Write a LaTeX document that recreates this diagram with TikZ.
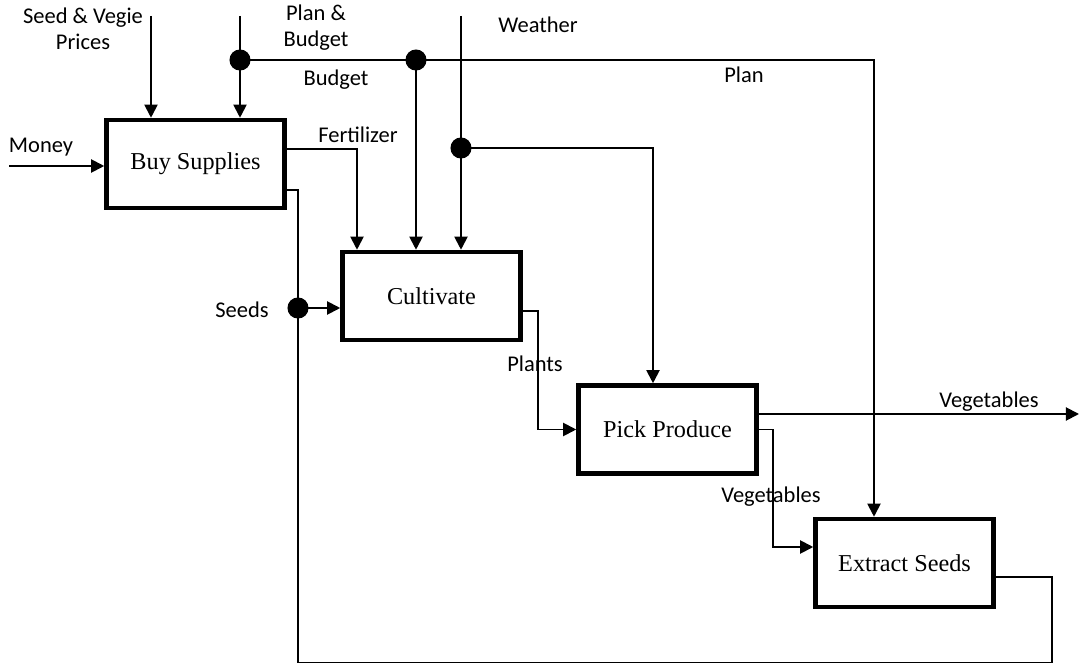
\documentclass[tikz,border=0pt]{standalone}
\usepackage{fontspec}
\setmainfont{Liberation Serif}
\newfontfamily\lblfont{Carlito}
\usetikzlibrary{arrows.meta, calc}

\begin{document}
\begin{tikzpicture}[x=0.02cm, y=-0.02cm,
        process/.style={rectangle, draw, line width=2.6pt, minimum width=3.56cm, minimum height=1.76cm, font=\fontsize{13.8}{16}\selectfont},
        flow/.style={line width=1.1pt},
        arr/.style={flow, -{Triangle[length=7.5pt, width=7.5pt]}},
        lbl/.style={font=\lblfont\fontsize{12.8}{14.8}\selectfont, inner sep=1pt, align=center},
        junction/.style={circle, fill, inner sep=0pt, minimum size=12pt}
    ]
        \useasboundingbox (0,0) rectangle (1079,665);

        % activities
        \node[process] (buy) at (195.5,164) {Buy Supplies};
        \node[process] (cult) at (431.5,296) {Cultivate};
        \node[process] (pick) at (667.5,429.5) {Pick Produce};
        \node[process] (extract) at (904.5,563) {Extract Seeds};

        % branch points
        \node[junction] (j1) at (240,60) {};
        \node[junction] (j2) at (416,60) {};
        \node[junction] (j3) at (461,148) {};
        \node[junction] (j4) at (298,308) {};

        \coordinate (moneyin) at (9,166);
        \coordinate (pricesin) at (151,16);
        \coordinate (planin) at (240,16);
        \coordinate (weatherin) at (461,16);
        \coordinate (planturn) at (874,60);
        \coordinate (wturn) at (653,148);
        \coordinate (fertturn) at (357,149);
        \coordinate (vegout) at (1079,414);
        \coordinate (loop) at (1052,662.5);

        % inputs and controls
        \draw[arr] (moneyin) -- (moneyin -| buy.west);
        \draw[arr] (pricesin) -- (pricesin |- buy.north);
        \draw[arr] (planin) -- (planin |- buy.north);
        \draw[arr] (j1.center) -- (planturn) -- (planturn |- extract.north);
        \draw[arr] (j2.center) -- (j2 |- cult.north);
        \draw[arr] (weatherin) -- (weatherin |- cult.north);
        \draw[arr] (j3.center) -- (wturn) -- (wturn |- pick.north);

        % outputs
        \draw[arr] (fertturn -| buy.east) -- (fertturn) -- (fertturn |- cult.north);
        \draw[flow] ([yshift=-0.52cm]buy.east) -| (j4.center) -- (j4 |- loop) -- (loop) |- ([yshift=-0.28cm]extract.east);
        \draw[arr] (j4.center) -- (cult.west |- j4);
        \draw[arr] ([yshift=-0.3cm]cult.east) -- ++(15,0) |- (pick.west);
        \draw[arr] (vegout -| pick.east) -- (vegout);
        \draw[arr] (pick.east) -- ++(14,0) |- ([yshift=0.32cm]extract.west);

        % labels
        \node[lbl] (moneylbl) at (41,147) {Money};
        \node[lbl] (priceslbl) at (83,29) {Seed \& Vegie\\Prices};
        \node[lbl] (planlbl) at (316,28) {Plan \&\\Budget};
        \node[lbl] (weatherlbl) at (538,25) {Weather};
        \node[lbl] (budgetlbl) at (336,80) {Budget};
        \node[lbl] (planonlylbl) at (744,75) {Plan};
        \node[lbl] (fertlbl) at (358,135) {Fertilizer};
        \node[lbl] (seedslbl) at (242,310) {Seeds};
        \node[lbl] (plantslbl) at (535,364) {Plants};
        \node[lbl] (vegoutlbl) at (989,402) {Vegetables};
        \node[lbl] (veglbl) at (771,497) {Vegetables};
    \end{tikzpicture}
\end{document}
